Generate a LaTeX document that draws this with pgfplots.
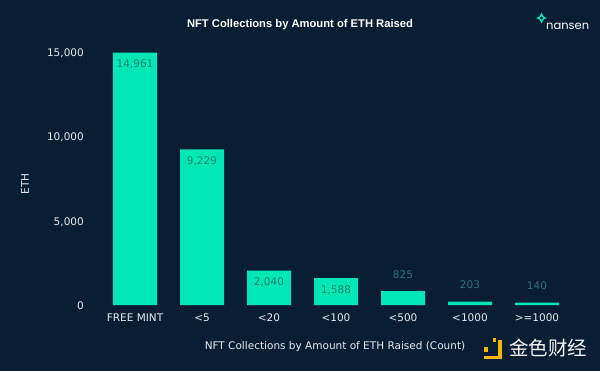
\documentclass[border=0pt]{standalone}
\usepackage{fontspec}
\setmainfont{DejaVu Sans}
\newfontfamily\titlefont{Liberation Sans}
\newfontfamily\logofont{Poppins}
\newfontfamily\cjk{Noto Sans CJK SC}
\usepackage{pgfplots}
\pgfplotsset{compat=1.18}
\usetikzlibrary{backgrounds}
\definecolor{bg}{HTML}{0A1E33}
\definecolor{barc}{HTML}{00E6B4}
\definecolor{lblin}{HTML}{16866E}
\definecolor{lblout}{HTML}{2E7275}
\definecolor{tickc}{HTML}{E6ECF0}
\definecolor{jinse}{HTML}{F2B705}
\newcommand{\fs}{\fontsize{10.5bp}{12bp}\selectfont}
\begin{document}
\begin{tikzpicture}
\begin{axis}[
  at={(0,0)}, anchor=south west, scale only axis,
  width=469bp, height=253bp,
  xmin=-0.5, xmax=6.5, ymin=0, ymax=15000,
  clip=false,
  axis line style={draw=none}, major tick length=0pt,
  /pgf/number format/assume math mode=true,
  /pgf/number format/1000 sep={,},
  scaled y ticks=false,
  xtick={0,...,6},
  xticklabels={FREE MINT,<5,<20,<100,<500,<1000,>=1000},
  ytick={0,5000,10000,15000},
  xticklabel style={font=\fs, text=tickc, anchor=base, inner sep=0pt, yshift=-16.8bp},
  yticklabel style={font=\fs, text=tickc, anchor=base east, inner sep=0pt, xshift=-17.5bp, yshift=-4.5bp},
]
\addplot[ybar, bar width=44bp, fill=barc, draw=none] coordinates {
  (0,14961) (1,9229) (2,2040) (3,1588) (4,825) (5,203) (6,140)};
\addplot[draw=none, mark=none, nodes near coords, point meta=y,
  nodes near coords style={font=\fs, text=lblin, anchor=base, inner sep=0pt, yshift=-14.8bp}]
  coordinates {(0,14961) (1,9229) (2,2040) (3,1588)};
\addplot[draw=none, mark=none, nodes near coords, point meta=y,
  nodes near coords style={font=\fs, text=lblout, anchor=base, inner sep=0pt, yshift=12.7bp}]
  coordinates {(4,825) (5,203) (6,140)};
\coordinate (O) at (axis cs:-0.5,0);
\end{axis}
\begin{scope}[shift={(O)}, x=1bp, y=1bp]
\begin{scope}[shift={(-101.5,-66)}]
\begin{pgfonlayer}{background}
\fill[bg] (0,0) rectangle (600,371);
\end{pgfonlayer}
\useasboundingbox (0,0) rectangle (600,371);
% title
\node[text=white, font=\titlefont\bfseries\fontsize{11.2bp}{13bp}\selectfont] at (300,346) {NFT Collections by Amount of ETH Raised};
% axis titles
\node[text=tickc, font=\fs] at (335,24) {NFT Collections by Amount of ETH Raised (Count)};
\node[text=tickc, font=\fs, rotate=90] at (25,187) {ETH};
% nansen logo
\fill[barc] (541.5,358.5) .. controls (542.4,355.2) and (543.6,354) .. (547,353)
  .. controls (543.6,352) and (542.4,350.8) .. (541.5,347.5)
  .. controls (540.6,350.8) and (539.4,352) .. (536,353)
  .. controls (539.4,354) and (540.6,355.2) .. cycle;
\fill[bg] (541.5,354.6) -- (543.1,353) -- (541.5,351.4) -- (539.9,353) -- cycle;
\node[text=white, font=\logofont\fontsize{11.5bp}{13bp}\selectfont, anchor=base west, inner sep=0pt] at (546,342) {nansen};
% watermark
\fill[jinse] (492.7,29.5) rectangle (496,33);
\fill[jinse] (484,19) rectangle (488.3,24);
\fill[jinse] (498.3,12) rectangle (501.7,31.3);
\fill[jinse] (484,12) rectangle (501.7,15.3);
\node[text=white!92!gray, font=\cjk\fontsize{19.5bp}{22bp}\selectfont, anchor=west, inner sep=0pt] at (509,23) {金色财经};
\end{scope}
\end{scope}
\end{tikzpicture}
\end{document}
